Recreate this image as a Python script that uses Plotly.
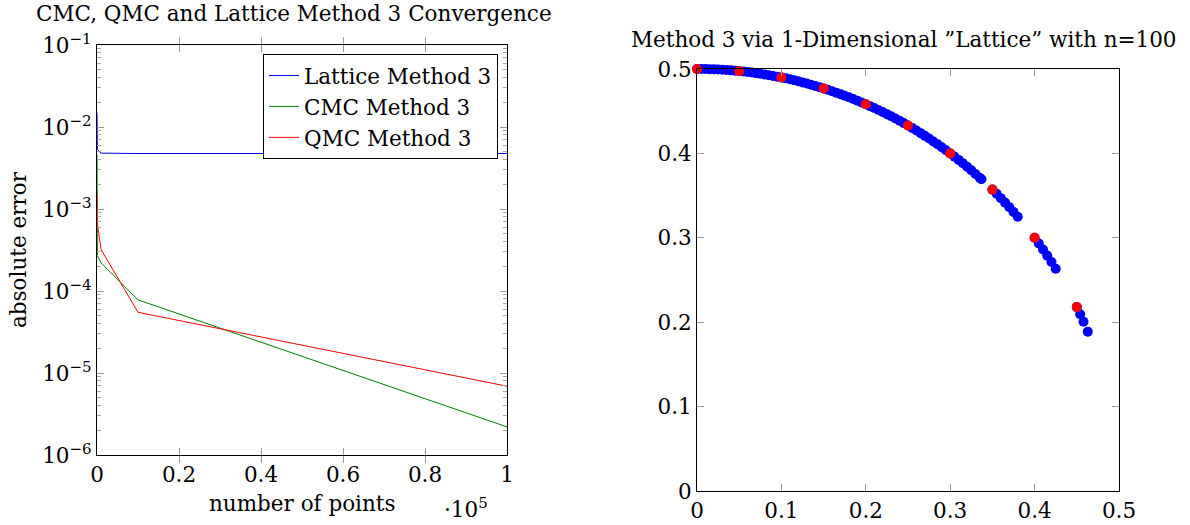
import plotly.graph_objects as go

# ---- left panel: convergence of the three estimators ----
n_points = [10, 100, 1000, 10000, 100000]
err_lattice = [1.5e-2, 5.3e-3, 4.8e-3, 4.75e-3, 4.75e-3]
err_cmc = [4.6e-3, 2.7e-4, 2.2e-4, 7.8e-5, 2.2e-6]
err_qmc = [1.5e-3, 6.5e-4, 3.2e-4, 5.5e-5, 6.9e-6]

x_tick_vals = [0, 20000, 40000, 60000, 80000, 100000]
x_tick_text = ["0", "0.2", "0.4", "0.6", "0.8", "1"]
y_tick_vals = [1e-6, 1e-5, 1e-4, 1e-3, 1e-2, 1e-1]
y_tick_text = ["10<sup>−6</sup>", "10<sup>−5</sup>", "10<sup>−4</sup>",
               "10<sup>−3</sup>", "10<sup>−2</sup>", "10<sup>−1</sup>"]
# minor ticks at 2..9 within each decade
y_minor_vals = [m * d for d in y_tick_vals[:-1] for m in range(2, 10)]

# ---- right panel: lattice points on the quarter circle ----
lattice_x = [0.000, 0.005, 0.010, 0.015, 0.020, 0.025, 0.030, 0.035, 0.040, 0.045,
             0.050, 0.055, 0.060, 0.065, 0.070, 0.075, 0.080, 0.085, 0.090, 0.095,
             0.100, 0.105, 0.110, 0.115, 0.120, 0.125, 0.130, 0.135, 0.140, 0.145,
             0.150, 0.155, 0.160, 0.165, 0.170, 0.175, 0.180, 0.185, 0.190, 0.195,
             0.200, 0.205, 0.210, 0.215, 0.220, 0.225, 0.230, 0.235, 0.240, 0.245,
             0.250, 0.255, 0.260, 0.265, 0.270, 0.275, 0.280, 0.285, 0.290, 0.295,
             0.300, 0.305, 0.310, 0.315, 0.320, 0.325, 0.330, 0.335, 0.337,
             0.350, 0.355, 0.360, 0.365, 0.370, 0.375, 0.380,
             0.400, 0.405, 0.410, 0.415, 0.420, 0.425,
             0.450, 0.454, 0.458, 0.463]
lattice_y = [0.5000, 0.5000, 0.4999, 0.4998, 0.4996, 0.4994, 0.4991, 0.4988, 0.4984, 0.4980,
             0.4975, 0.4970, 0.4964, 0.4958, 0.4951, 0.4943, 0.4936, 0.4927, 0.4918, 0.4909,
             0.4899, 0.4889, 0.4878, 0.4866, 0.4854, 0.4841, 0.4828, 0.4814, 0.4800, 0.4785,
             0.4770, 0.4754, 0.4737, 0.4720, 0.4702, 0.4684, 0.4665, 0.4645, 0.4625, 0.4604,
             0.4583, 0.4560, 0.4538, 0.4514, 0.4490, 0.4465, 0.4440, 0.4413, 0.4386, 0.4359,
             0.4330, 0.4301, 0.4271, 0.4240, 0.4208, 0.4176, 0.4142, 0.4108, 0.4073, 0.4037,
             0.4000, 0.3962, 0.3923, 0.3883, 0.3842, 0.3800, 0.3756, 0.3712, 0.3694,
             0.3571, 0.3521, 0.3470, 0.3417, 0.3363, 0.3307, 0.3250,
             0.3000, 0.2932, 0.2862, 0.2789, 0.2713, 0.2634,
             0.2179, 0.2095, 0.2006, 0.1888]
grid_x = [0.00, 0.05, 0.10, 0.15, 0.20, 0.25, 0.30, 0.35, 0.40, 0.45]
grid_y = [0.5000, 0.4975, 0.4899, 0.4770, 0.4583, 0.4330, 0.4000, 0.3571, 0.3000, 0.2179]
r_ticks = [0, 0.1, 0.2, 0.3, 0.4, 0.5]
r_tick_text = ["0", "0.1", "0.2", "0.3", "0.4", "0.5"]

FONT = "DejaVu Serif, Liberation Serif, serif"
FS = 21.5
W, H = 1190, 525

fig = go.Figure()
fig.add_trace(go.Scatter(x=n_points, y=err_lattice, mode="lines", name="Lattice Method 3",
                         line=dict(color="#0000ff", width=1), xaxis="x", yaxis="y"))
fig.add_trace(go.Scatter(x=n_points, y=err_cmc, mode="lines", name="CMC Method 3",
                         line=dict(color="#008000", width=1), xaxis="x", yaxis="y"))
fig.add_trace(go.Scatter(x=n_points, y=err_qmc, mode="lines", name="QMC Method 3",
                         line=dict(color="#ff0000", width=1), xaxis="x", yaxis="y"))
fig.add_trace(go.Scatter(x=lattice_x, y=lattice_y, mode="markers", showlegend=False,
                         marker=dict(color="#0000ff", size=10, line=dict(width=0)),
                         xaxis="x2", yaxis="y2", cliponaxis=False))
fig.add_trace(go.Scatter(x=grid_x, y=grid_y, mode="markers", showlegend=False,
                         marker=dict(color="#ff0000", size=10, line=dict(width=0)),
                         xaxis="x2", yaxis="y2", cliponaxis=False))

def px_x(a, b):
    return [a / W, b / W]

def px_y(top, bottom):
    return [1 - bottom / H, 1 - top / H]

axis_common = dict(showgrid=False, zeroline=False, showline=True, linecolor="black",
                   linewidth=1, mirror="allticks", ticks="inside", ticklen=7,
                   tickcolor="#999999", automargin=False,
                   tickfont=dict(size=FS, color="black", family=FONT))

fig.update_layout(
    width=W, height=H,
    margin=dict(l=0, r=0, t=0, b=0, autoexpand=False),
    paper_bgcolor="white", plot_bgcolor="white",
    font=dict(family=FONT, size=FS, color="black"),
    xaxis=dict(domain=px_x(97, 507), range=[0, 100000], tickvals=x_tick_vals,
               ticktext=x_tick_text, anchor="y", **axis_common),
    yaxis=dict(domain=px_y(45, 455), type="log", range=[-6, -1], tickvals=y_tick_vals,
               ticktext=y_tick_text, anchor="x", **axis_common),
    # overlay axis carrying only the minor log ticks
    yaxis3=dict(domain=px_y(45, 455), type="log", range=[-6, -1], overlaying="y",
                anchor="x", tickvals=y_minor_vals, showticklabels=False, showgrid=False,
                zeroline=False, showline=False, ticks="inside", ticklen=4,
                tickcolor="#aaaaaa", mirror="allticks", automargin=False),
    xaxis2=dict(domain=px_x(697, 1119), range=[0, 0.5], tickvals=r_ticks,
                ticktext=r_tick_text, anchor="y2", **axis_common),
    yaxis2=dict(domain=px_y(69, 491), range=[0, 0.5], tickvals=r_ticks,
                ticktext=r_tick_text, anchor="x2", **axis_common),
    legend=dict(x=498 / W, y=1 - 54 / H, xanchor="right", yanchor="top",
                bgcolor="white", bordercolor="black", borderwidth=1,
                font=dict(size=FS, family=FONT), tracegroupgap=0),
    annotations=[
        dict(text="CMC, QMC and Lattice Method 3 Convergence", x=294 / W, y=1 - 13 / H,
             xanchor="center", yanchor="middle"),
        dict(text="Method 3 via 1-Dimensional \u201dLattice\u201d with n=100", x=904 / W,
             y=1 - 40 / H, xanchor="center", yanchor="middle"),
        dict(text="absolute error", x=18 / W, y=1 - 250 / H, textangle=-90,
             xanchor="center", yanchor="middle"),
        dict(text="number of points", x=302 / W, y=1 - 503 / H,
             xanchor="center", yanchor="middle"),
        dict(text="·10<sup>5</sup>", x=466 / W, y=1 - 508 / H,
             xanchor="center", yanchor="middle"),
    ],
)
fig.update_annotations(xref="paper", yref="paper", showarrow=False,
                       font=dict(size=FS, family=FONT, color="black"))
# an invisible trace so the minor-tick axis is drawn
fig.add_trace(go.Scatter(x=[None], y=[None], xaxis="x", yaxis="y3", showlegend=False,
                         hoverinfo="skip"))

fig.write_html("out.html")
